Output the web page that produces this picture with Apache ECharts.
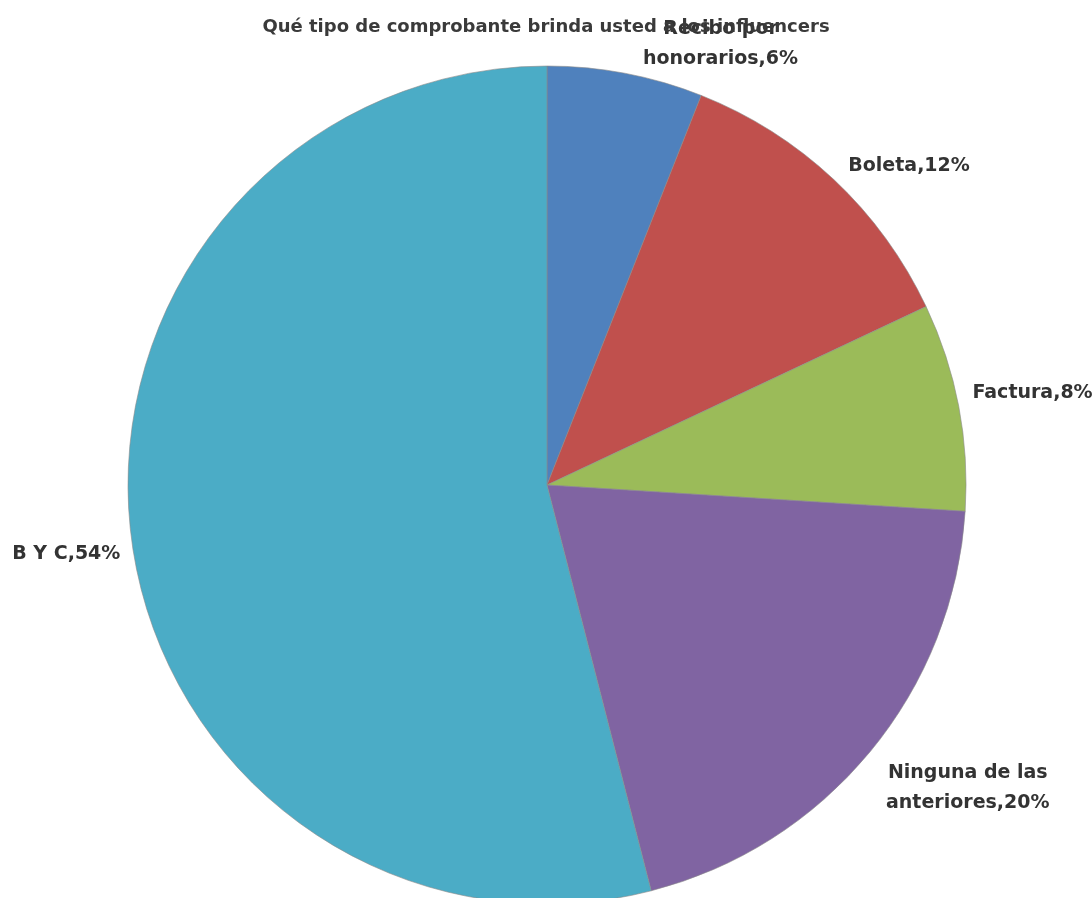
<!DOCTYPE html>
<html>
<head>
<meta charset="utf-8">
<script src="https://cdn.jsdelivr.net/npm/echarts@6/dist/echarts.min.js"></script>
<style>html,body{margin:0;padding:0;background:#fff}#c{width:1092px;height:898px}</style>
</head>
<body>
<div id="c"></div>
<script>
const titleText = 'Qué tipo de comprobante brinda usted a los influencers';
const categories = ['Recibo por\nhonorarios', 'Boleta', 'Factura', 'Ninguna de las\nanteriores', 'B Y C'];
const values = [6, 12, 8, 20, 54];
const colors = ['#4F81BD', '#C0504D', '#9BBB59', '#8064A2', '#4BACC6'];

// label nudges (layout only), relative to ECharts' own outside placement
const labelNudge = [[5, -22], [-2, -8], [-5, -12], [-1, 31], [8, 16]];

const chart = echarts.init(document.getElementById('c'), null, {renderer: 'canvas'});
chart.setOption({
  backgroundColor: '#fff',
  animation: false,
  title: {
    text: titleText,
    left: 'center',
    top: 13,
    textStyle: {fontFamily: 'DejaVu Sans', fontSize: 18, fontWeight: 'bold', color: '#3a3a3a'}
  },
  series: [{
    type: 'pie',
    center: [547, 485],
    radius: [0, 419],
    startAngle: 90,
    clockwise: true,
    data: categories.map((c, i) => ({name: c, value: values[i], itemStyle: {color: colors[i]}})),
    itemStyle: {borderColor: '#8a8a8a', borderWidth: 0.6},
    label: {
      show: true,
      position: 'outside',
      formatter: '{b},{c}%',
      fontFamily: 'DejaVu Sans',
      fontSize: 19,
      fontWeight: 'bold',
      color: '#333',
      lineHeight: 30,
      overflow: 'none',
      edgeDistance: 0
    },
    labelLine: {show: false, length: 8, length2: 6},
    labelLayout: function (p) {
      const r = p.labelRect;
      const n = labelNudge[p.dataIndex];
      return {
        x: r.x + r.width / 2 + n[0],
        y: r.y + r.height / 2 + n[1],
        align: 'center',
        verticalAlign: 'middle'
      };
    },
    emphasis: {disabled: true}
  }]
});
</script>
</body>
</html>
